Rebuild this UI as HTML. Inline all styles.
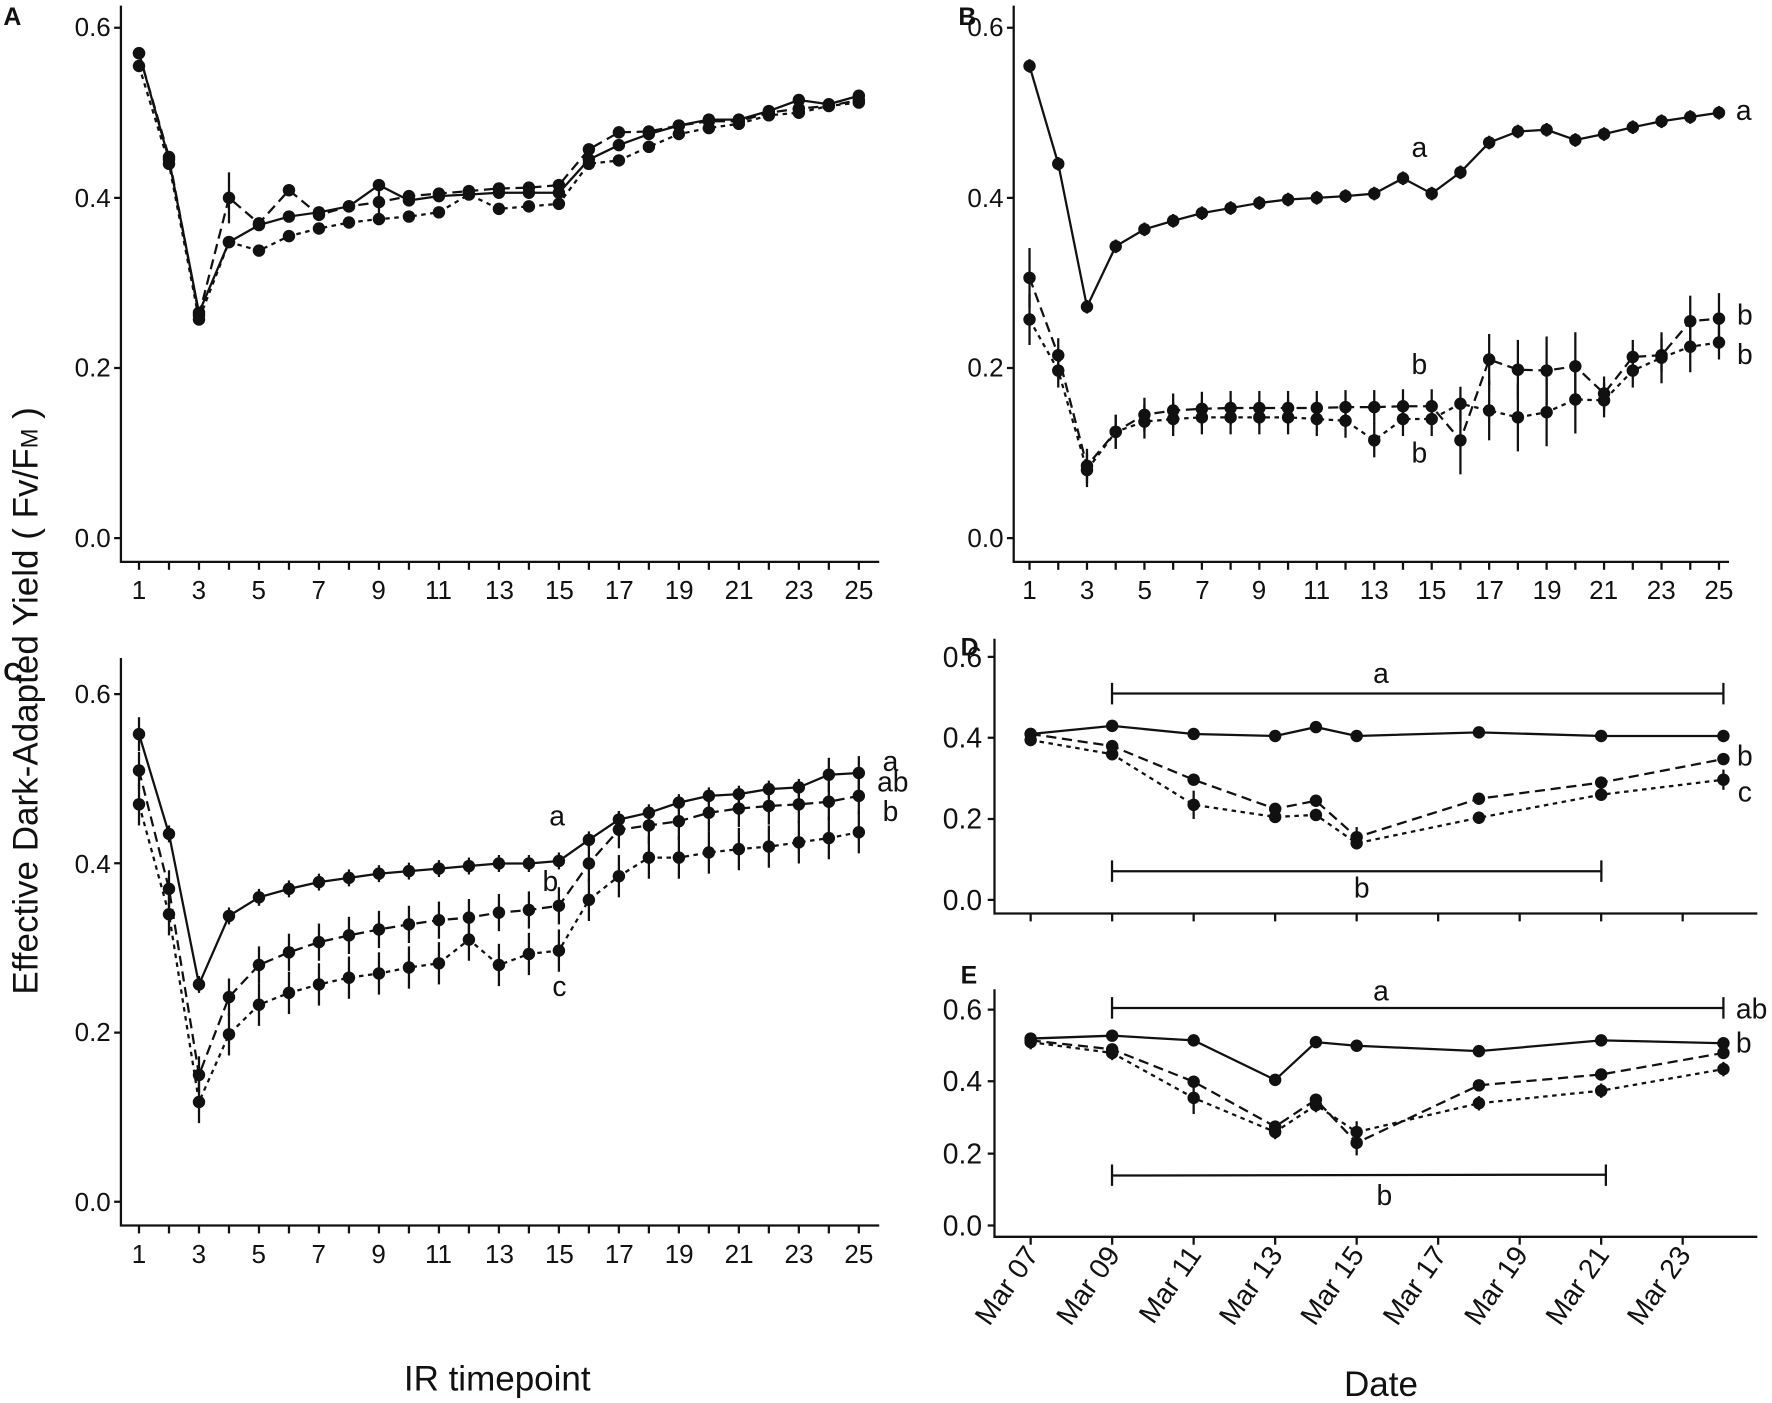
<!DOCTYPE html>
<html><head><meta charset="utf-8"><style>
html,body{margin:0;padding:0;background:#fff;}
svg{display:block}
text{font-family:"Liberation Sans",sans-serif;fill:#111}
.t{font-size:23px}
.td{font-size:25px}
.ta{font-size:25px}
.p{font-size:22px;font-weight:bold}
.l{font-size:31px}
</style></head><body>
<svg id="s" width="1772" height="1403" viewBox="0 0 1568 1241" preserveAspectRatio="none" xmlns="http://www.w3.org/2000/svg">
<g stroke="#111" stroke-width="2" fill="none">
<path d="M107 5V497H778"/>
<path d="M101 24.5H107M101 175H107M101 325.5H107M101 476H107"/>
<path d="M897 5V497H1530"/>
<path d="M891 24.5H897M891 175H897M891 325.5H897M891 476H897"/>
<path d="M107 582V1084H778"/>
<path d="M101 614H107M101 763.6H107M101 913.4H107M101 1063H107"/>
<path d="M880 565V808H1555"/>
<path d="M874 581H880M874 652.6H880M874 724.4H880M874 796H880"/>
<path d="M880 875V1094H1555"/>
<path d="M874 893H880M874 956.4H880M874 1020.4H880M874 1084H880"/>
</g>
<g id="ticks" stroke="#111" stroke-width="2"></g>
<g id="data"></g>
<g class="t" text-anchor="end">
<text x="98" y="32">0.6</text><text x="98" y="183">0.4</text><text x="98" y="333">0.2</text><text x="98" y="484">0.0</text>
<text x="888" y="32">0.6</text><text x="888" y="183">0.4</text><text x="888" y="333">0.2</text><text x="888" y="484">0.0</text>
<text x="98" y="622">0.6</text><text x="98" y="772">0.4</text><text x="98" y="921">0.2</text><text x="98" y="1071">0.0</text>
</g>
<g class="td" text-anchor="end">
<text x="869" y="590">0.6</text><text x="869" y="661">0.4</text><text x="869" y="733">0.2</text><text x="869" y="805">0.0</text>
<text x="869" y="902">0.6</text><text x="869" y="965">0.4</text><text x="869" y="1029">0.2</text><text x="869" y="1093">0.0</text>
</g>
<g class="t" text-anchor="middle">
<text x="123" y="530">1</text><text x="176" y="530">3</text><text x="229" y="530">5</text><text x="282" y="530">7</text><text x="335" y="530">9</text><text x="388" y="530">11</text><text x="442" y="530">13</text><text x="495" y="530">15</text><text x="548" y="530">17</text><text x="601" y="530">19</text><text x="654" y="530">21</text><text x="707" y="530">23</text><text x="760" y="530">25</text>
<text x="911" y="530">1</text><text x="962" y="530">3</text><text x="1013" y="530">5</text><text x="1064" y="530">7</text><text x="1114" y="530">9</text><text x="1165" y="530">11</text><text x="1216" y="530">13</text><text x="1267" y="530">15</text><text x="1318" y="530">17</text><text x="1369" y="530">19</text><text x="1419" y="530">21</text><text x="1470" y="530">23</text><text x="1521" y="530">25</text>
<text x="123" y="1117">1</text><text x="176" y="1117">3</text><text x="229" y="1117">5</text><text x="282" y="1117">7</text><text x="335" y="1117">9</text><text x="388" y="1117">11</text><text x="442" y="1117">13</text><text x="495" y="1117">15</text><text x="548" y="1117">17</text><text x="601" y="1117">19</text><text x="654" y="1117">21</text><text x="707" y="1117">23</text><text x="760" y="1117">25</text>
</g>
<g class="td" text-anchor="end">
<text transform="translate(920,1110) rotate(-55)">Mar 07</text>
<text transform="translate(992,1110) rotate(-55)">Mar 09</text>
<text transform="translate(1064,1110) rotate(-55)">Mar 11</text>
<text transform="translate(1136,1110) rotate(-55)">Mar 13</text>
<text transform="translate(1208,1110) rotate(-55)">Mar 15</text>
<text transform="translate(1281,1110) rotate(-55)">Mar 17</text>
<text transform="translate(1353,1110) rotate(-55)">Mar 19</text>
<text transform="translate(1425,1110) rotate(-55)">Mar 21</text>
<text transform="translate(1497,1110) rotate(-55)">Mar 23</text>
</g>
<g class="p"><text x="3" y="22">A</text><text x="848" y="22">B</text><text x="3" y="602">C</text><text x="850" y="580">D</text><text x="850" y="870">E</text></g>
<g class="ta" text-anchor="middle">
<text x="1256" y="139">a</text><text x="1543" y="106">a</text>
<text x="1256" y="331">b</text><text x="1256" y="409">b</text><text x="1544" y="287">b</text><text x="1544" y="322">b</text>
<text x="493" y="730">a</text><text x="487" y="788">b</text><text x="495" y="881">c</text>
<text x="788" y="682">a</text><text x="790" y="700">ab</text><text x="788" y="726">b</text>
<text x="1544" y="677">b</text><text x="1544" y="709">c</text>
<text x="1222" y="604">a</text><text x="1205" y="794">b</text>
<text x="1222" y="885">a</text><text x="1225" y="1066">b</text>
<text x="1550" y="901">ab</text><text x="1543" y="931">b</text>
</g>
<g stroke="#111" stroke-width="2" fill="none">
<path d="M984 613.4H1525M984 604V623M1525 604V623"/>
<path d="M984 770.6H1417M984 761V780M1417 761V780"/>
<path d="M984 891.6H1525M984 882V901M1525 882V901"/>
<path d="M984 1039.8L1421 1039M984 1030V1049M1421 1030V1049"/>
</g>
<g class="l">
<text x="440" y="1230" text-anchor="middle">IR timepoint</text>
<text x="1222" y="1235" text-anchor="middle">Date</text>
<text transform="translate(33,620) rotate(-90)" text-anchor="middle">Effective Dark-Adapted Yield ( Fv/F<tspan font-size="21">M</tspan> )</text>
</g>
</svg>
<script>
var NS="http://www.w3.org/2000/svg",g=document.getElementById("data"),tk=document.getElementById("ticks");
function el(n,a,p){var e=document.createElementNS(NS,n);for(var k in a)e.setAttribute(k,a[k]);(p||g).appendChild(e);return e;}
var dash={s:"none",d:"9,5",o:"4,4"};
function series(xs,vals,errs,fy,st){
 var pts=vals.map(function(v,i){return [xs[i],fy(v)];});
 el("polyline",{points:pts.map(function(p){return p.join(",")}).join(" "),fill:"none",stroke:"#111","stroke-width":2,"stroke-dasharray":dash[st]});
 vals.forEach(function(v,i){var e=errs?(errs[i]!=null?errs[i]:errs.d):0.006;
  el("line",{x1:xs[i],x2:xs[i],y1:fy(v+e),y2:fy(v-e),stroke:"#111","stroke-width":2});
  el("circle",{cx:xs[i],cy:fy(v),r:5.5,fill:"#111"});});
}
function rng(x0,dx,n){var a=[];for(var i=0;i<n;i++)a.push(x0+i*dx);return a;}
var xA=rng(123,26.54,25),xB=rng(911,25.42,25);
var yA=function(v){return 476-v*752.5},yC=function(v){return 1063-v*748};
var yD=function(v){return 796-v*358},yE=function(v){return 1084-v*318};
xA.forEach(function(x){el("line",{x1:x,x2:x,y1:497,y2:504},tk);el("line",{x1:x,x2:x,y1:1084,y2:1091},tk);});
xB.forEach(function(x){el("line",{x1:x,x2:x,y1:497,y2:504},tk);});
for(var d=0;d<=16;d+=2){var x=912+d*36.06;el("line",{x1:x,x2:x,y1:808,y2:815},tk);el("line",{x1:x,x2:x,y1:1094,y2:1101},tk);}
series(xA,[0.57,0.445,0.265,0.348,0.368,0.378,0.383,0.39,0.415,0.397,0.402,0.404,0.406,0.406,0.406,0.445,0.462,0.475,0.485,0.492,0.492,0.502,0.515,0.51,0.52],null,yA,"s");
series(xA,[0.57,0.448,0.262,0.40,0.37,0.409,0.38,0.39,0.395,0.402,0.405,0.408,0.411,0.412,0.415,0.457,0.477,0.478,0.485,0.49,0.49,0.5,0.505,0.508,0.515],{d:0.007,3:0.03,8:0.015},yA,"d");
series(xA,[0.555,0.44,0.257,0.348,0.338,0.355,0.364,0.371,0.375,0.378,0.383,0.404,0.387,0.39,0.393,0.44,0.444,0.46,0.475,0.482,0.487,0.497,0.5,0.508,0.512],null,yA,"o");
series(xB,[0.555,0.44,0.272,0.343,0.363,0.373,0.382,0.388,0.394,0.398,0.4,0.402,0.405,0.423,0.405,0.43,0.465,0.478,0.48,0.468,0.475,0.483,0.49,0.495,0.5],{d:0.008},yA,"s");
series(xB,[0.306,0.215,0.085,0.125,0.145,0.15,0.152,0.153,0.153,0.153,0.153,0.154,0.154,0.155,0.155,0.115,0.21,0.198,0.197,0.202,0.17,0.213,0.215,0.255,0.258],{d:0.02,0:0.035,15:0.04,16:0.03,17:0.035,18:0.04,19:0.04,23:0.03,24:0.03},yA,"d");
series(xB,[0.257,0.197,0.08,0.125,0.137,0.14,0.142,0.142,0.142,0.142,0.14,0.138,0.115,0.14,0.14,0.158,0.15,0.142,0.148,0.163,0.162,0.197,0.212,0.225,0.23],{d:0.02,0:0.03,16:0.035,17:0.04,18:0.04,19:0.04,22:0.03,23:0.03},yA,"o");
series(xA,[0.553,0.435,0.257,0.338,0.36,0.37,0.378,0.383,0.388,0.391,0.394,0.397,0.4,0.4,0.403,0.428,0.452,0.46,0.472,0.48,0.482,0.488,0.49,0.505,0.507],{d:0.01,0:0.02,23:0.02,24:0.02},yC,"s");
series(xA,[0.51,0.37,0.15,0.242,0.28,0.295,0.307,0.315,0.322,0.328,0.333,0.336,0.342,0.345,0.35,0.40,0.44,0.445,0.45,0.46,0.465,0.468,0.47,0.473,0.48],{d:0.022},yC,"d");
series(xA,[0.47,0.34,0.118,0.198,0.233,0.247,0.257,0.265,0.27,0.277,0.282,0.31,0.28,0.293,0.297,0.357,0.385,0.407,0.407,0.413,0.417,0.42,0.425,0.43,0.437],{d:0.025},yC,"o");
var dd=[0,2,4,6,7,8,11,14,17].map(function(d){return 912+d*36.06});
series(dd,[0.41,0.43,0.41,0.405,0.427,0.405,0.414,0.405,0.405],null,yD,"s");
series(dd,[0.41,0.38,0.297,0.225,0.245,0.155,0.25,0.29,0.348],{d:0.01,5:0.025},yD,"d");
series(dd,[0.395,0.36,0.235,0.205,0.21,0.14,0.203,0.26,0.297],{d:0.015,2:0.035,8:0.025},yD,"o");
series(dd,[0.52,0.528,0.515,0.405,0.51,0.5,0.485,0.515,0.507],null,yE,"s");
series(dd,[0.515,0.49,0.40,0.275,0.35,0.23,0.39,0.42,0.48],{d:0.015,5:0.035},yE,"d");
series(dd,[0.51,0.48,0.355,0.26,0.335,0.26,0.34,0.375,0.435],{d:0.02,2:0.045,5:0.03},yE,"o");
</script>
</body></html>
